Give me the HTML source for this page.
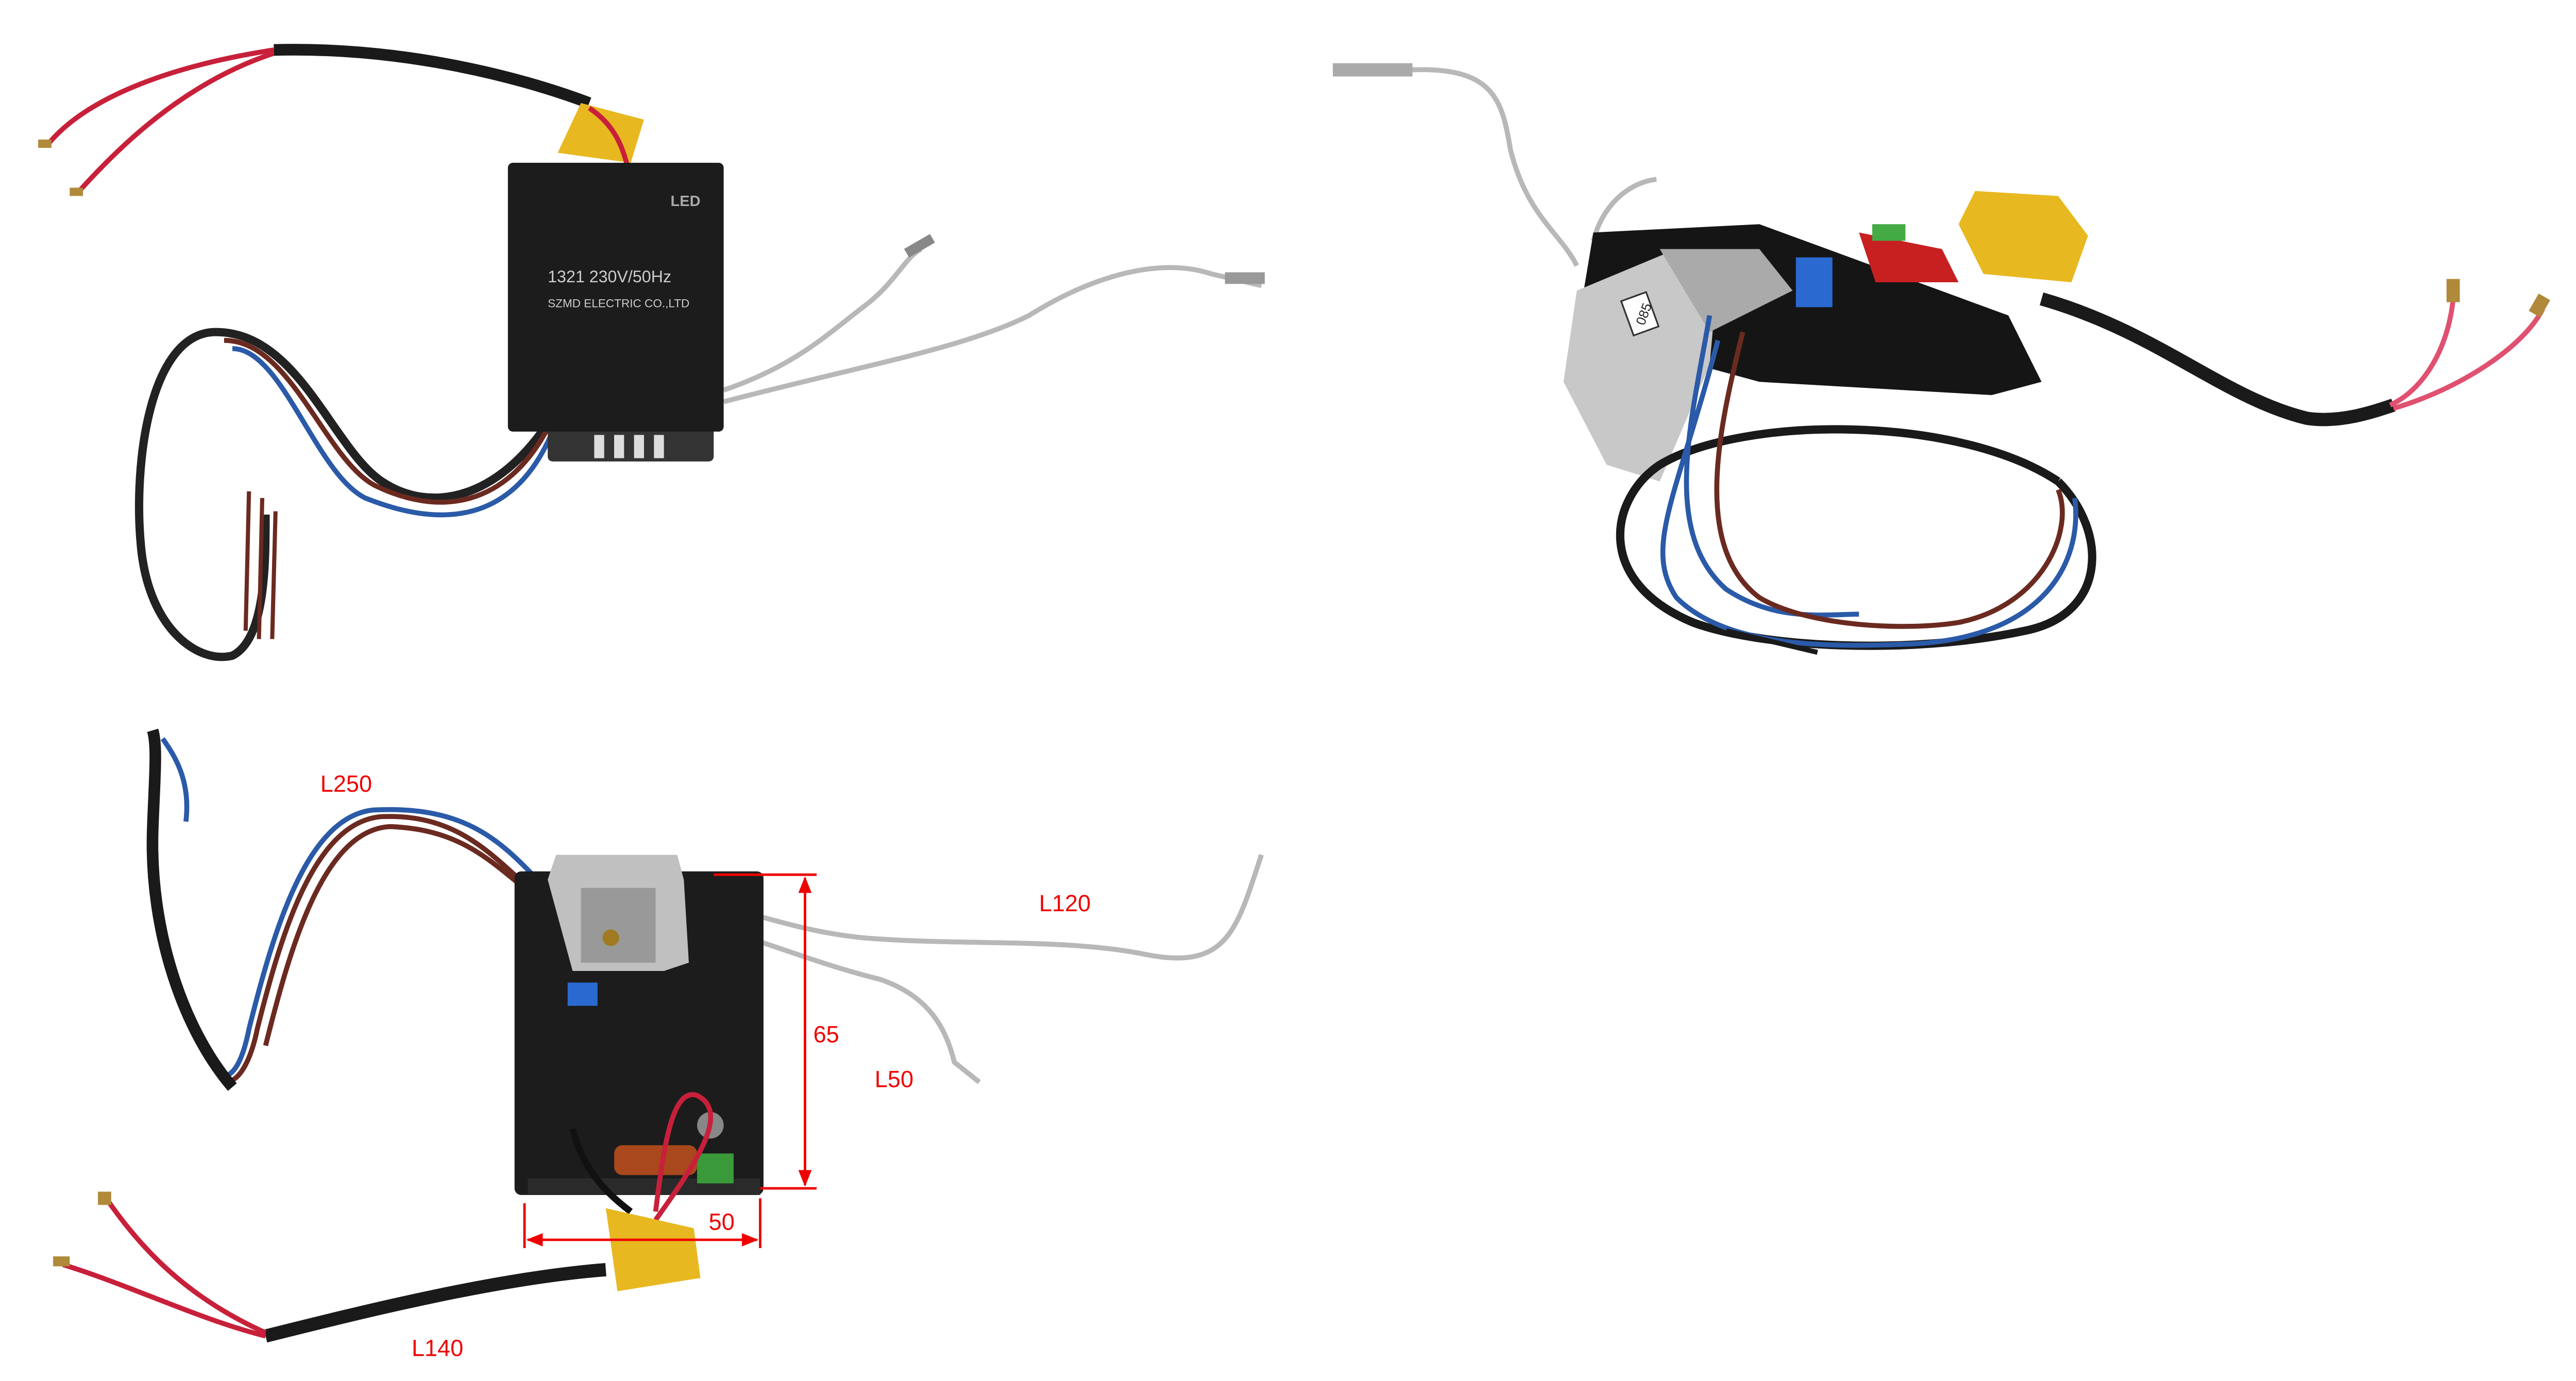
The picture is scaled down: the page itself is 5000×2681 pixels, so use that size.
<!DOCTYPE html>
<html><head><meta charset="utf-8"><style>
html,body{margin:0;padding:0;background:#fff;}
svg{display:block;}
text{font-family:"Liberation Sans",sans-serif;}
</style></head><body>
<svg width="5000" height="2681" viewBox="0 0 1552 832" xmlns="http://www.w3.org/2000/svg">
<rect width="1552" height="832" fill="#fff"/>
<defs>
<marker id="ar" markerUnits="userSpaceOnUse" markerWidth="10" markerHeight="8" refX="9" refY="4" orient="auto"><path d="M0,0 L10,4 L0,8 z" fill="#e00"/></marker>
<marker id="al" markerUnits="userSpaceOnUse" markerWidth="10" markerHeight="8" refX="1" refY="4" orient="auto"><path d="M10,0 L0,4 L10,8 z" fill="#e00"/></marker>
</defs>

<!-- ===== Top-left module ===== -->
<path d="M165,30 C100,40 50,60 28,88" stroke="#c8203a" stroke-width="3" fill="none"/>
<path d="M165,32 C110,50 70,90 46,117" stroke="#c8203a" stroke-width="3" fill="none"/>
<rect x="23" y="84" width="8" height="5" fill="#b08a3a"/>
<rect x="42" y="113" width="8" height="5" fill="#b08a3a"/>
<path d="M165,30 C240,28 310,45 355,62" stroke="#1a1a1a" stroke-width="7" fill="none"/>
<path d="M350,62 L388,72 L380,98 L336,92 z" fill="#e8b820"/>
<path d="M355,65 C370,75 375,88 378,100" stroke="#c8203a" stroke-width="3" fill="none"/>
<path d="M436,235 C480,220 500,200 520,185 C540,170 545,155 555,150" stroke="#b8b8b8" stroke-width="3" fill="none"/>
<path d="M436,242 C520,220 580,210 620,190 C660,165 700,155 730,165 L760,172" stroke="#b8b8b8" stroke-width="3" fill="none"/>
<rect x="545" y="145" width="18" height="6" fill="#888" transform="rotate(-30 554 148)"/>
<rect x="738" y="164" width="24" height="7" fill="#999"/>
<path d="M330,255 C300,300 260,310 230,290 C200,270 180,200 130,200 C90,200 80,280 85,330 C90,380 120,400 140,395 C160,385 160,340 160,310" stroke="#222" stroke-width="5" fill="none"/>
<path d="M330,258 C305,305 265,312 225,292 C195,275 175,205 135,205" stroke="#6b2a20" stroke-width="3" fill="none"/>
<path d="M332,262 C310,312 270,320 220,300 C190,285 170,210 140,210" stroke="#2a5aa8" stroke-width="3" fill="none"/>
<path d="M150,296 L148,380 M158,300 L156,385 M166,308 L164,385" stroke="#6b2a20" stroke-width="2.5" fill="none"/>
<rect x="330" y="250" width="100" height="28" rx="3" fill="#333"/>
<g fill="#ddd"><rect x="358" y="262" width="6" height="14"/><rect x="370" y="262" width="6" height="14"/><rect x="382" y="262" width="6" height="14"/><rect x="394" y="262" width="6" height="14"/></g>
<rect x="306" y="98" width="130" height="162" rx="3" fill="#1c1c1c"/>
<text x="404" y="124" font-size="9" fill="#aaa" font-weight="bold">LED</text>
<text x="330" y="170" font-size="10" fill="#ccc" font-family="Liberation Serif,serif">1321 230V/50Hz</text>
<text x="330" y="185" font-size="7" fill="#ccc" font-family="Liberation Serif,serif">SZMD ELECTRIC CO.,LTD</text>

<!-- ===== Top-right module ===== -->
<path d="M805,42 L850,42 C900,40 905,60 910,90 C920,130 940,140 950,160" stroke="#b8b8b8" stroke-width="3" fill="none"/>
<rect x="803" y="38" width="48" height="8" fill="#aaa"/>
<path d="M960,145 C965,125 980,110 998,108" stroke="#b8b8b8" stroke-width="3" fill="none"/>
<path d="M1230,180 C1300,200 1340,240 1390,252 C1410,255 1430,248 1442,244" stroke="#1a1a1a" stroke-width="8" fill="none"/>
<path d="M1440,244 C1460,235 1475,210 1478,180" stroke="#e05070" stroke-width="3" fill="none"/>
<path d="M1442,246 C1480,235 1520,210 1532,186" stroke="#e05070" stroke-width="3" fill="none"/>
<rect x="1474" y="168" width="8" height="14" fill="#b08a3a"/><rect x="1526" y="178" width="8" height="12" fill="#b08a3a" transform="rotate(30 1530 184)"/>
<path d="M960,140 L1060,135 L1210,190 L1230,230 L1200,238 L1060,230 L950,200 z" fill="#151515"/>
<path d="M1120,140 L1170,150 L1180,170 L1130,170 z" fill="#c82020"/>
<rect x="1128" y="135" width="20" height="10" fill="#4a4"/>
<path d="M1190,115 L1240,118 L1258,142 L1248,170 L1195,165 L1180,135 z" fill="#e8b820"/>
<rect x="1082" y="155" width="22" height="30" fill="#2a6ad0"/>
<path d="M950,175 L1010,150 L1035,165 L1030,220 L1000,290 L968,280 L942,230 z" fill="#c8c8c8"/>
<path d="M1000,150 L1060,150 L1080,175 L1030,200 z" fill="#aaa"/>
<rect x="980" y="178" width="16" height="22" fill="#fff" stroke="#333" transform="rotate(-20 988 189)"/>
<text x="982" y="194" font-size="8" fill="#222" transform="rotate(-70 988 189)">085</text>
<path d="M1240,290 C1270,320 1270,370 1220,380 C1150,395 1060,390 1020,375 C960,350 970,300 1000,280 C1050,250 1180,250 1240,290" stroke="#1a1a1a" stroke-width="5" fill="none"/>
<path d="M1030,190 C1020,250 1000,320 1040,355 C1070,375 1100,370 1120,370" stroke="#2a5aa8" stroke-width="3" fill="none"/>
<path d="M1050,200 C1035,260 1020,330 1060,360 C1090,378 1150,380 1180,375 C1230,365 1250,320 1240,295" stroke="#6b2a20" stroke-width="3" fill="none"/>
<path d="M1035,205 C1010,300 990,330 1010,360 C1040,390 1100,390 1150,388 C1230,385 1255,340 1250,300" stroke="#2a5aa8" stroke-width="3" fill="none"/>
<path d="M1040,380 L1095,393" stroke="#1a1a1a" stroke-width="3"/>

<!-- ===== Bottom-left module ===== -->
<path d="M330,545 C300,520 280,490 230,492 C190,495 170,560 155,620 C150,645 140,655 135,650" stroke="#6b2a20" stroke-width="3" fill="none"/>
<path d="M333,540 C305,510 285,485 225,488 C185,492 165,560 150,620 C145,645 138,650 132,648" stroke="#2a5aa8" stroke-width="3" fill="none"/>
<path d="M335,550 C300,525 285,500 235,498 C195,500 175,570 160,630" stroke="#6b2a20" stroke-width="3" fill="none"/>
<path d="M140,655 C110,620 90,560 92,500 C93,470 95,450 92,440" stroke="#1a1a1a" stroke-width="7" fill="none"/>
<path d="M98,445 C105,455 115,470 112,495" stroke="#2a5aa8" stroke-width="3" fill="none"/>
<path d="M160,805 C220,790 300,770 365,765" stroke="#1a1a1a" stroke-width="8" fill="none"/>
<path d="M160,805 C120,795 80,775 38,762" stroke="#c8203a" stroke-width="3" fill="none"/>
<path d="M160,803 C120,785 90,760 64,722" stroke="#c8203a" stroke-width="3" fill="none"/>
<rect x="32" y="757" width="10" height="6" fill="#b08a3a"/><rect x="59" y="718" width="8" height="8" fill="#b08a3a"/>
<path d="M410,545 C450,545 470,560 520,565 C580,570 640,565 690,575 C740,585 745,560 760,515" stroke="#b8b8b8" stroke-width="3" fill="none"/>
<path d="M405,560 C440,555 470,575 530,590 C560,600 570,620 575,640 L590,652" stroke="#b8b8b8" stroke-width="3" fill="none"/>
<path d="M370,575 C400,570 420,560 445,548" stroke="#b8b8b8" stroke-width="3" fill="none"/>
<rect x="310" y="525" width="150" height="195" rx="4" fill="#1c1c1c"/>
<rect x="318" y="710" width="140" height="10" fill="#2a2a2a"/>
<path d="M335,515 L408,515 L412,530 L415,580 L400,585 L345,585 L330,530 z" fill="#c0c0c0"/>
<rect x="350" y="535" width="45" height="45" fill="#999"/>
<circle cx="368" cy="565" r="5" fill="#a07a20"/>
<rect x="342" y="592" width="18" height="14" fill="#2a6ad0"/>
<rect x="370" y="690" width="50" height="18" rx="5" fill="#a8481c"/>
<rect x="420" y="695" width="22" height="18" fill="#3a9a3a"/>
<circle cx="428" cy="678" r="8" fill="#888"/>
<path d="M345,680 C350,700 360,715 380,730" stroke="#111" stroke-width="4" fill="none"/>
<path d="M395,735 C420,700 440,670 420,660 C405,655 400,690 395,730" stroke="#c8203a" stroke-width="3" fill="none"/>
<path d="M365,728 L418,740 L422,770 L372,778 z" fill="#e8b820"/>
<!-- dimensions -->
<g stroke="#e00" stroke-width="1.5" fill="none">
<line x1="430" y1="527" x2="492" y2="527"/>
<line x1="458" y1="716" x2="492" y2="716"/>
<line x1="485" y1="529" x2="485" y2="714" marker-start="url(#al)" marker-end="url(#ar)"/>
<line x1="316" y1="725" x2="316" y2="752"/>
<line x1="458" y1="722" x2="458" y2="752"/>
<line x1="318" y1="747" x2="456" y2="747" marker-start="url(#al)" marker-end="url(#ar)"/>
</g>
<g font-size="14" fill="#e00">
<text x="490" y="628">65</text>
<text x="427" y="741">50</text>
<text x="193" y="477">L250</text>
<text x="626" y="549">L120</text>
<text x="527" y="655">L50</text>
<text x="248" y="817">L140</text>
</g>
</svg>
</body></html>
